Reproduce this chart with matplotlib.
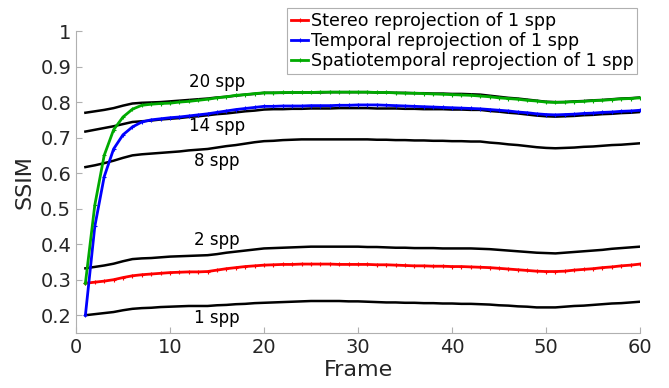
import matplotlib
matplotlib.use("Agg")
import matplotlib.pyplot as plt
import numpy as np

frames = list(range(1, 61))

spp1 = [0.200, 0.203, 0.206, 0.209, 0.214, 0.218, 0.220, 0.221, 0.223, 0.224,
        0.225, 0.226, 0.226, 0.226, 0.228, 0.229, 0.231, 0.232, 0.234, 0.235,
        0.236, 0.237, 0.238, 0.239, 0.240, 0.240, 0.240, 0.240, 0.239, 0.239,
        0.238, 0.237, 0.236, 0.236, 0.235, 0.235, 0.234, 0.234, 0.233, 0.233,
        0.232, 0.232, 0.231, 0.230, 0.228, 0.227, 0.225, 0.224, 0.222, 0.222,
        0.222, 0.224, 0.226, 0.227, 0.229, 0.231, 0.233, 0.234, 0.236, 0.238]

spp2 = [0.332, 0.336, 0.340, 0.345, 0.352, 0.358, 0.360, 0.361, 0.363, 0.365,
        0.366, 0.367, 0.368, 0.369, 0.372, 0.376, 0.379, 0.382, 0.385, 0.388,
        0.389, 0.390, 0.391, 0.392, 0.393, 0.393, 0.393, 0.393, 0.393, 0.393,
        0.392, 0.392, 0.391, 0.390, 0.390, 0.389, 0.389, 0.389, 0.388, 0.388,
        0.388, 0.388, 0.387, 0.386, 0.384, 0.382, 0.380, 0.378, 0.376, 0.375,
        0.374, 0.376, 0.378, 0.380, 0.382, 0.384, 0.387, 0.389, 0.391, 0.393]

spp8 = [0.617, 0.622, 0.628, 0.635, 0.643, 0.650, 0.653, 0.655, 0.657, 0.659,
        0.661, 0.664, 0.666, 0.668, 0.672, 0.676, 0.679, 0.683, 0.687, 0.690,
        0.691, 0.693, 0.694, 0.695, 0.695, 0.695, 0.695, 0.695, 0.695, 0.695,
        0.695, 0.694, 0.694, 0.693, 0.693, 0.692, 0.692, 0.691, 0.691, 0.690,
        0.690, 0.689, 0.689, 0.686, 0.684, 0.681, 0.679, 0.676, 0.673, 0.671,
        0.670, 0.671, 0.672, 0.674, 0.675, 0.677, 0.679, 0.680, 0.682, 0.684]

spp14 = [0.717, 0.722, 0.727, 0.732, 0.738, 0.744, 0.746, 0.748, 0.751, 0.753,
         0.755, 0.758, 0.760, 0.763, 0.766, 0.768, 0.771, 0.774, 0.776, 0.779,
         0.780, 0.780, 0.781, 0.781, 0.782, 0.782, 0.782, 0.783, 0.783, 0.783,
         0.783, 0.782, 0.782, 0.782, 0.781, 0.781, 0.780, 0.780, 0.780, 0.779,
         0.779, 0.778, 0.778, 0.775, 0.773, 0.770, 0.768, 0.765, 0.762, 0.760,
         0.759, 0.760, 0.761, 0.763, 0.764, 0.766, 0.767, 0.769, 0.770, 0.772]

spp20 = [0.770, 0.774, 0.778, 0.783, 0.790, 0.796, 0.798, 0.799, 0.800, 0.802,
         0.804, 0.806, 0.808, 0.810, 0.813, 0.815, 0.818, 0.821, 0.823, 0.826,
         0.826, 0.826, 0.827, 0.827, 0.827, 0.827, 0.828, 0.828, 0.828, 0.828,
         0.828, 0.827, 0.827, 0.826, 0.826, 0.825, 0.825, 0.824, 0.824, 0.823,
         0.823, 0.822, 0.821, 0.818, 0.815, 0.812, 0.810, 0.807, 0.804, 0.801,
         0.800, 0.800, 0.802, 0.803, 0.805, 0.806, 0.808, 0.810, 0.811, 0.813]

stereo = [0.290, 0.293, 0.296, 0.300, 0.306, 0.311, 0.314, 0.316, 0.318, 0.320,
          0.321, 0.322, 0.322, 0.323, 0.327, 0.331, 0.334, 0.337, 0.339, 0.341,
          0.342, 0.343, 0.343, 0.344, 0.344, 0.344, 0.344, 0.343, 0.343, 0.343,
          0.343, 0.342, 0.342, 0.341, 0.340, 0.339, 0.339, 0.338, 0.338, 0.337,
          0.337, 0.336, 0.335, 0.334, 0.332, 0.330, 0.328, 0.326, 0.324, 0.323,
          0.323, 0.324, 0.327, 0.329, 0.331, 0.334, 0.336, 0.339, 0.341, 0.344]

temporal = [0.200, 0.450, 0.590, 0.668, 0.708, 0.730, 0.744, 0.750, 0.753, 0.756,
            0.758, 0.761, 0.764, 0.767, 0.771, 0.775, 0.779, 0.782, 0.785, 0.788,
            0.788, 0.789, 0.789, 0.789, 0.790, 0.790, 0.790, 0.791, 0.791, 0.792,
            0.792, 0.792, 0.791, 0.790, 0.789, 0.788, 0.787, 0.786, 0.785, 0.784,
            0.783, 0.782, 0.781, 0.779, 0.777, 0.775, 0.772, 0.770, 0.767, 0.765,
            0.764, 0.765, 0.766, 0.768, 0.769, 0.771, 0.772, 0.774, 0.775, 0.777]

spatiotemporal = [0.290, 0.510, 0.650, 0.722, 0.758, 0.780, 0.791, 0.794, 0.796, 0.797,
                  0.800, 0.802, 0.805, 0.808, 0.812, 0.815, 0.819, 0.821, 0.824, 0.826,
                  0.826, 0.827, 0.827, 0.827, 0.827, 0.828, 0.828, 0.828, 0.828, 0.828,
                  0.828, 0.827, 0.827, 0.826, 0.825, 0.825, 0.824, 0.823, 0.822, 0.821,
                  0.820, 0.819, 0.817, 0.815, 0.812, 0.810, 0.808, 0.805, 0.803, 0.800,
                  0.799, 0.800, 0.801, 0.802, 0.804, 0.805, 0.807, 0.809, 0.810, 0.812]

ref_series = [spp1, spp2, spp8, spp14, spp20]
ref_labels = ["1 spp", "2 spp", "8 spp", "14 spp", "20 spp"]
label_pos = [(15, 0.193), (15, 0.412), (15, 0.633), (15, 0.732), (15, 0.856)]

method_series = [stereo, temporal, spatiotemporal]
method_labels = ["Stereo reprojection of 1 spp",
                 "Temporal reprojection of 1 spp",
                 "Spatiotemporal reprojection of 1 spp"]
method_colors = ["#ff0000", "#0000ff", "#00aa00"]

xticks = [0, 10, 20, 30, 40, 50, 60]
yticks = [0.2, 0.3, 0.4, 0.5, 0.6, 0.7, 0.8, 0.9, 1]
ytick_labels = ["0.2", "0.3", "0.4", "0.5", "0.6", "0.7", "0.8", "0.9", "1"]

plt.rcParams['font.family'] = ['DejaVu Sans']
fig = plt.figure(figsize=(6.69, 3.88), dpi=100)
ax = fig.add_axes([0.1136, 0.1418, 0.8431, 0.7782])

for s in ref_series:
    ax.plot(frames, s, color="black", lw=1.8, zorder=2)

handles = []
for s, lab, c in zip(method_series, method_labels, method_colors):
    h, = ax.plot(frames, s, color=c, lw=2.0, marker="+", markersize=3,
                 markeredgewidth=0.8, label=lab, zorder=3)
    handles.append(h)

for lab, (x, y) in zip(ref_labels, label_pos):
    ax.text(x, y, lab, ha="center", va="center", fontsize=12, color="black")

ax.set_xlim(0, 60)
ax.set_ylim(0.15, 1.0)
ax.set_xticks(xticks)
ax.set_yticks(yticks)
ax.set_yticklabels(ytick_labels)
ax.tick_params(direction="in", length=4, width=0.8, colors="#b0b0b0",
               labelcolor="#262626", labelsize=14)
ax.spines["top"].set_visible(False)
ax.spines["right"].set_visible(False)
for sp in ("left", "bottom"):
    ax.spines[sp].set_color("#b0b0b0")
    ax.spines[sp].set_linewidth(0.8)
ax.set_xlabel("Frame", fontsize=16, color="#262626", labelpad=2)
ax.set_ylabel("SSIM", fontsize=16, color="#262626", labelpad=4)

leg = ax.legend(handles=handles, loc="upper right", bbox_to_anchor=(0.995, 1.075),
                fontsize=12.6, frameon=True, fancybox=False, framealpha=1,
                edgecolor="#b0b0b0", handlelength=1.0, handletextpad=0.15,
                borderpad=0.2, labelspacing=0.12, borderaxespad=0.0)
leg.get_frame().set_linewidth(0.8)

fig.savefig("out.png", dpi=100)
